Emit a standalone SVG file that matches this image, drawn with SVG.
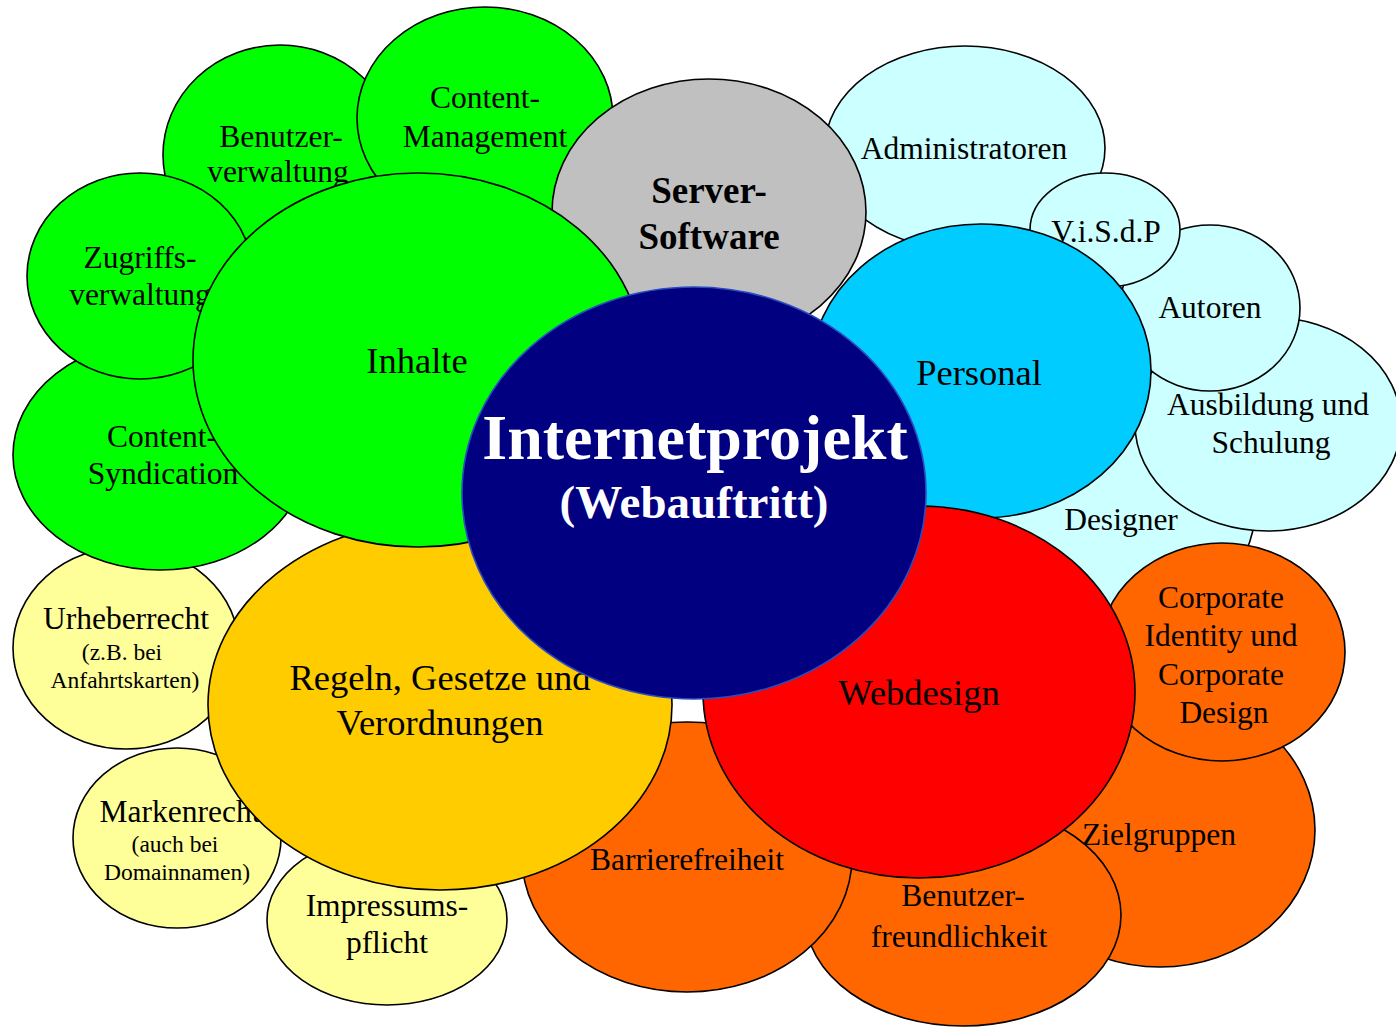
<svg xmlns="http://www.w3.org/2000/svg" width="1396" height="1027" viewBox="0 0 1396 1027">
<style>
ellipse{stroke:#000;stroke-width:1.6}
text{font-family:"Liberation Serif","Times New Roman",serif;text-anchor:middle;fill:#000}
.s{font-size:31.5px}
.b{font-size:36.5px}
.x{font-size:23.5px}
.bb{font-size:37px;font-weight:bold}
.g{fill:#00ff00}.lc{fill:#ccffff}.c{fill:#00ccff}.gr{fill:#c0c0c0}
.o{fill:#ff6600}.r{fill:#ff0000}.y{fill:#ffcc00}.ly{fill:#ffff99}
</style>
<rect width="1396" height="1027" fill="#fff"/>
<g id="connectors"/>
<g id="administratoren"><ellipse class="lc" cx="965" cy="148" rx="140" ry="102"/><text class="s" x="964" y="159">Administratoren</text></g>
<g id="designer"><ellipse class="lc" cx="1120" cy="510" rx="135" ry="115"/><text class="s" x="1121" y="530">Designer</text></g>
<g id="ausbildung"><ellipse class="lc" cx="1268" cy="424" rx="133" ry="107"/><text class="s" x="1268" y="415">Ausbildung und</text><text class="s" x="1271" y="453">Schulung</text></g>
<g id="autoren"><ellipse class="lc" cx="1210" cy="308" rx="90" ry="83"/><text class="s" x="1210" y="318">Autoren</text></g>
<g id="visdp"><ellipse class="lc" cx="1105" cy="230" rx="75" ry="57"/><text class="s" x="1106" y="242">V.i.S.d.P</text></g>
<g id="benutzerverwaltung"><ellipse class="g" cx="280" cy="155" rx="117" ry="110"/><text class="s" x="281" y="147">Benutzer-</text><text class="s" x="278" y="182">verwaltung</text></g>
<g id="content-management"><ellipse class="g" cx="485" cy="118" rx="128" ry="111"/><text class="s" x="485" y="108">Content-</text><text class="s" x="485" y="147">Management</text></g>
<g id="server-software"><ellipse class="gr" cx="709" cy="212" rx="157" ry="133"/><text class="bb" x="709" y="203">Server-</text><text class="bb" x="709" y="249">Software</text></g>
<g id="personal"><ellipse class="c" cx="981" cy="371" rx="170" ry="147"/><text class="b" x="979" y="385">Personal</text></g>
<g id="urheberrecht"><ellipse class="ly" cx="126" cy="648" rx="113" ry="101"/><text class="s" x="126" y="629">Urheberrecht</text><text class="x" x="122" y="660">(z.B. bei</text><text class="x" x="125" y="688">Anfahrtskarten)</text></g>
<g id="content-syndication"><ellipse class="g" cx="160" cy="455" rx="147" ry="115"/><text class="s" x="162" y="447">Content-</text><text class="s" x="163" y="484">Syndication</text></g>
<g id="zugriffsverwaltung"><ellipse class="g" cx="140" cy="276" rx="113" ry="103"/><text class="s" x="140" y="268">Zugriffs-</text><text class="s" x="140" y="305">verwaltung</text></g>
<g id="markenrecht"><ellipse class="ly" cx="177" cy="838" rx="104" ry="90"/><text class="s" x="180" y="822">Markenrecht</text><text class="x" x="175" y="852">(auch bei</text><text class="x" x="177" y="880">Domainnamen)</text></g>
<g id="impressumspflicht"><ellipse class="ly" cx="387" cy="920" rx="120" ry="85"/><text class="s" x="387" y="916">Impressums-</text><text class="s" x="387" y="953">pflicht</text></g>
<g id="zielgruppen"><ellipse class="o" cx="1160" cy="830" rx="155" ry="137"/><text class="s" x="1159" y="845">Zielgruppen</text></g>
<g id="corporate"><ellipse class="o" cx="1222" cy="652" rx="123" ry="109"/><text class="s" x="1221" y="608">Corporate</text><text class="s" x="1221" y="646">Identity und</text><text class="s" x="1221" y="685">Corporate</text><text class="s" x="1224" y="723">Design</text></g>
<g id="benutzerfreundlichkeit"><ellipse class="o" cx="963" cy="915" rx="158" ry="111"/><text class="s" x="963" y="906">Benutzer-</text><text class="s" x="959" y="947">freundlichkeit</text></g>
<g id="barrierefreiheit"><ellipse class="o" cx="687" cy="857" rx="165" ry="135"/><text class="s" x="687" y="870">Barrierefreiheit</text></g>
<g id="regeln"><ellipse class="y" cx="440" cy="705" rx="232" ry="185"/><text class="b" x="440" y="690">Regeln, Gesetze und</text><text class="b" x="440" y="735">Verordnungen</text></g>
<g id="inhalte"><ellipse class="g" cx="418" cy="360" rx="225" ry="187"/><text class="b" x="417" y="373">Inhalte</text></g>
<g id="webdesign"><ellipse class="r" cx="919" cy="692" rx="216" ry="186"/><text class="b" x="919" y="705">Webdesign</text></g>
<g id="internetprojekt"><ellipse cx="694" cy="493" rx="232" ry="206" fill="#000080" style="stroke:#2a4cc0;stroke-width:1.6"/><text x="695" y="459" style="font-size:64px;font-weight:bold;fill:#fff">Internetprojekt</text><text x="694" y="518" style="font-size:47px;font-weight:bold;fill:#fff">(Webauftritt)</text></g>
</svg>
